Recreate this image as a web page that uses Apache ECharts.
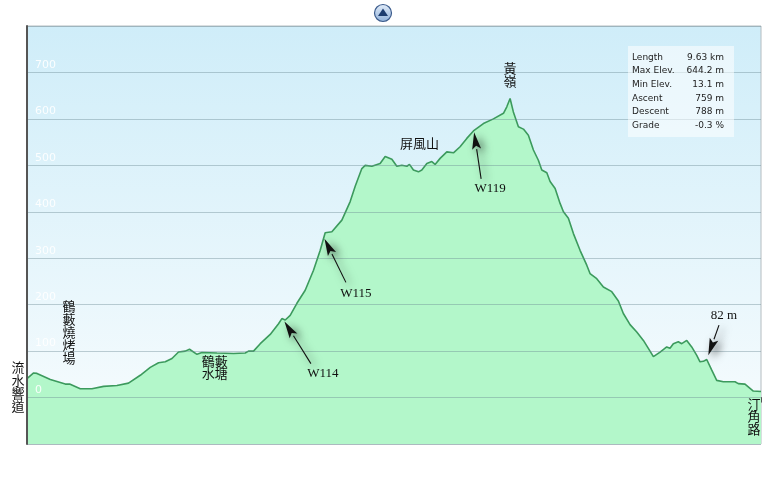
<!DOCTYPE html>
<html>
<head>
<meta charset="utf-8">
<script src="https://cdn.jsdelivr.net/npm/echarts@6/dist/echarts.min.js"></script>
<style>
html,body{margin:0;padding:0;background:#fff;}
#c{width:767px;height:491px;}
</style>
</head>
<body>
<div id="c"></div>
<script>
// distance (km) along the route
const distKm = [0.000,0.087,0.131,0.306,0.502,0.559,0.699,0.852,1.005,1.180,1.332,1.486,1.617,1.726,1.814,1.902,1.988,2.076,2.132,2.230,2.295,2.492,2.710,2.863,2.906,2.972,3.060,3.191,3.300,3.344,3.388,3.453,3.541,3.650,3.759,3.847,3.912,4.000,4.131,4.240,4.306,4.393,4.437,4.525,4.633,4.699,4.787,4.852,4.918,4.984,5.018,5.070,5.136,5.180,5.246,5.311,5.354,5.420,5.508,5.595,5.682,5.770,5.857,5.988,6.119,6.251,6.295,6.338,6.381,6.447,6.513,6.578,6.644,6.709,6.754,6.820,6.863,6.929,6.994,7.038,7.103,7.169,7.256,7.344,7.387,7.475,7.562,7.672,7.759,7.824,7.912,8.000,8.087,8.152,8.218,8.306,8.393,8.436,8.480,8.545,8.590,8.656,8.721,8.787,8.830,8.873,8.918,8.984,9.049,9.136,9.289,9.332,9.420,9.529,9.630];
// elevation (m)
const elevM = [41,53,52,39,29,29,19,19,24,26,31,48,65,75,77,84,98,100,104,93,97,96,95,96,100,100,116,136,159,170,167,177,203,231,274,317,355,357,382,422,455,493,500,498,504,519,513,498,500,498,502,490,486,490,504,508,502,515,529,527,540,558,574,590,600,612,626,644,615,583,578,565,533,511,490,484,465,450,418,400,386,353,317,285,267,256,238,228,208,181,157,141,123,106,88,98,109,106,116,120,116,123,109,91,77,78,82,59,37,34,34,30,29,14,13];

const yTicks = [0,100,200,300,400,500,600,700];

const statLabels = ['Length','Max Elev.','Min Elev.','Ascent','Descent','Grade'];
const statValues = ['9.63 km','644.2 m','13.1 m','759 m','788 m','-0.3 %'];

const arrowTexts = ['W114','W115','W119','82 m'];
const arrowTips  = [[3.378,164],[3.903,342],[5.866,571],[8.939,91]];
const arrowTails = [[3.725,73],[4.184,248],[5.958,471],[9.079,156]];

const placeNames   = ['流\n水\n響\n道','鶴\n藪\n燒\n烤\n場','鶴藪\n水塘','屏風山','黃\n嶺','汀\n角\n路'];
const placeAnchors = [[0,41],[0.55,29],[2.49,96],[5.15,488],[6.338,644],[9.63,13]];

const chart = echarts.init(document.getElementById('c'), null, {renderer:'canvas'});

const seriesData = distKm.map((d,i)=>[d, elevM[i]]);

chart.setOption({
  animation:false,
  grid:{left:27,right:6,top:26,bottom:47,show:true,borderColor:'#b4bcc0',borderWidth:1,
    backgroundColor:{type:'linear',x:0,y:0,x2:0,y2:1,colorStops:[{offset:0,color:'#cfedf9'},{offset:0.85,color:'#f2fafd'},{offset:1,color:'#f6fbfe'}]}},
  xAxis:{type:'value',min:0,max:9.63,interval:1,
    axisLine:{show:true,lineStyle:{color:'#555',width:2}},
    axisTick:{show:true,length:5,lineStyle:{color:'#555',width:1}},
    axisLabel:{show:false},splitLine:{show:false}},
  yAxis:{type:'value',min:-100,max:800,interval:100,z:3,
    axisLine:{show:true,lineStyle:{color:'#555',width:2}},
    axisTick:{show:false},
    axisLabel:{inside:true,margin:8,color:'rgba(255,255,255,0.9)',fontSize:11,fontFamily:'DejaVu Sans',
      verticalAlign:'bottom',padding:[0,0,2,0],
      formatter:v=> yTicks.indexOf(v)>=0 ? String(v) : ''},
    splitLine:{show:true,lineStyle:{color:'rgba(105,135,145,0.4)',width:1.2}}},
  series:[{type:'line',data:seriesData,symbol:'none',smooth:false,
    lineStyle:{color:'#3c9a5d',width:1.6},
    areaStyle:{color:'#b3f7ca',opacity:1,origin:'start'},z:2}]
});

const g = [];
// top toggle button
g.push({type:'circle',shape:{cx:383,cy:13,r:8.5},style:{fill:{type:'linear',x:0,y:0,x2:0,y2:1,colorStops:[{offset:0,color:'#e4eefa'},{offset:1,color:'#8fb0d9'}]},stroke:'#3b5b8c',lineWidth:1.2}});
g.push({type:'polygon',shape:{points:[[383,8.5],[378,16],[388,16]]},style:{fill:'#1d3c6e'}});

// stats box
g.push({type:'rect',shape:{x:628,y:46,width:106,height:91},style:{fill:'rgba(255,255,255,0.55)'},z:10});
statLabels.forEach((t,i)=>{
  g.push({type:'text',x:632,y:57.5+i*13.6,z:11,style:{text:t,fill:'#222',font:'9px "DejaVu Sans"',textVerticalAlign:'middle',textAlign:'left'}});
  g.push({type:'text',x:724,y:57.5+i*13.6,z:11,style:{text:statValues[i],fill:'#222',font:'9px "DejaVu Sans"',textVerticalAlign:'middle',textAlign:'right'}});
});

// arrows
const labelOffsets = [[12,10],[10,11],[9,10],[5,-10]];
arrowTexts.forEach((t,i)=>{
  const tip = chart.convertToPixel({gridIndex:0}, arrowTips[i]);
  const tail = chart.convertToPixel({gridIndex:0}, arrowTails[i]);
  const dx = tip[0]-tail[0], dy = tip[1]-tail[1];
  const L = Math.sqrt(dx*dx+dy*dy); const ux = dx/L, uy = dy/L;
  const hl = 17, hw = 4.5;
  const bx = tip[0]-ux*hl, by = tip[1]-uy*hl;
  const shadow = {shadowBlur:8,shadowColor:'rgba(0,0,0,0.65)',shadowOffsetX:4,shadowOffsetY:3};
  g.push({type:'line',z:20,shape:{x1:tail[0],y1:tail[1],x2:bx,y2:by},style:Object.assign({stroke:'#111',lineWidth:1.1},shadow)});
  g.push({type:'polygon',z:20,shape:{points:[[tip[0],tip[1]],[bx-uy*hw,by+ux*hw],[tip[0]-ux*hl*0.8,tip[1]-uy*hl*0.8],[bx+uy*hw,by-ux*hw]]},style:Object.assign({fill:'#111'},shadow)});
  g.push({type:'text',z:21,x:tail[0]+labelOffsets[i][0],y:tail[1]+labelOffsets[i][1],style:{text:t,fill:'#111',font:'13px "Liberation Serif"',textAlign:'center',textVerticalAlign:'middle'}});
});

// place names
const placeOffsets = [[-9,8],[0,-52],[-2,14],[0,-28],[0,-24],[-7,25]];
placeNames.forEach((t,i)=>{
  const p = chart.convertToPixel({gridIndex:0}, placeAnchors[i]);
  g.push({type:'text',z:21,x:p[0]+placeOffsets[i][0],y:p[1]+placeOffsets[i][1],style:{text:t,fill:'#111',fontSize:13,lineHeight:12.8,fontFamily:'"Noto Sans CJK TC"',textAlign:'center',textVerticalAlign:'middle'}});
});

chart.setOption({graphic:{elements:g}});
</script>
</body>
</html>
